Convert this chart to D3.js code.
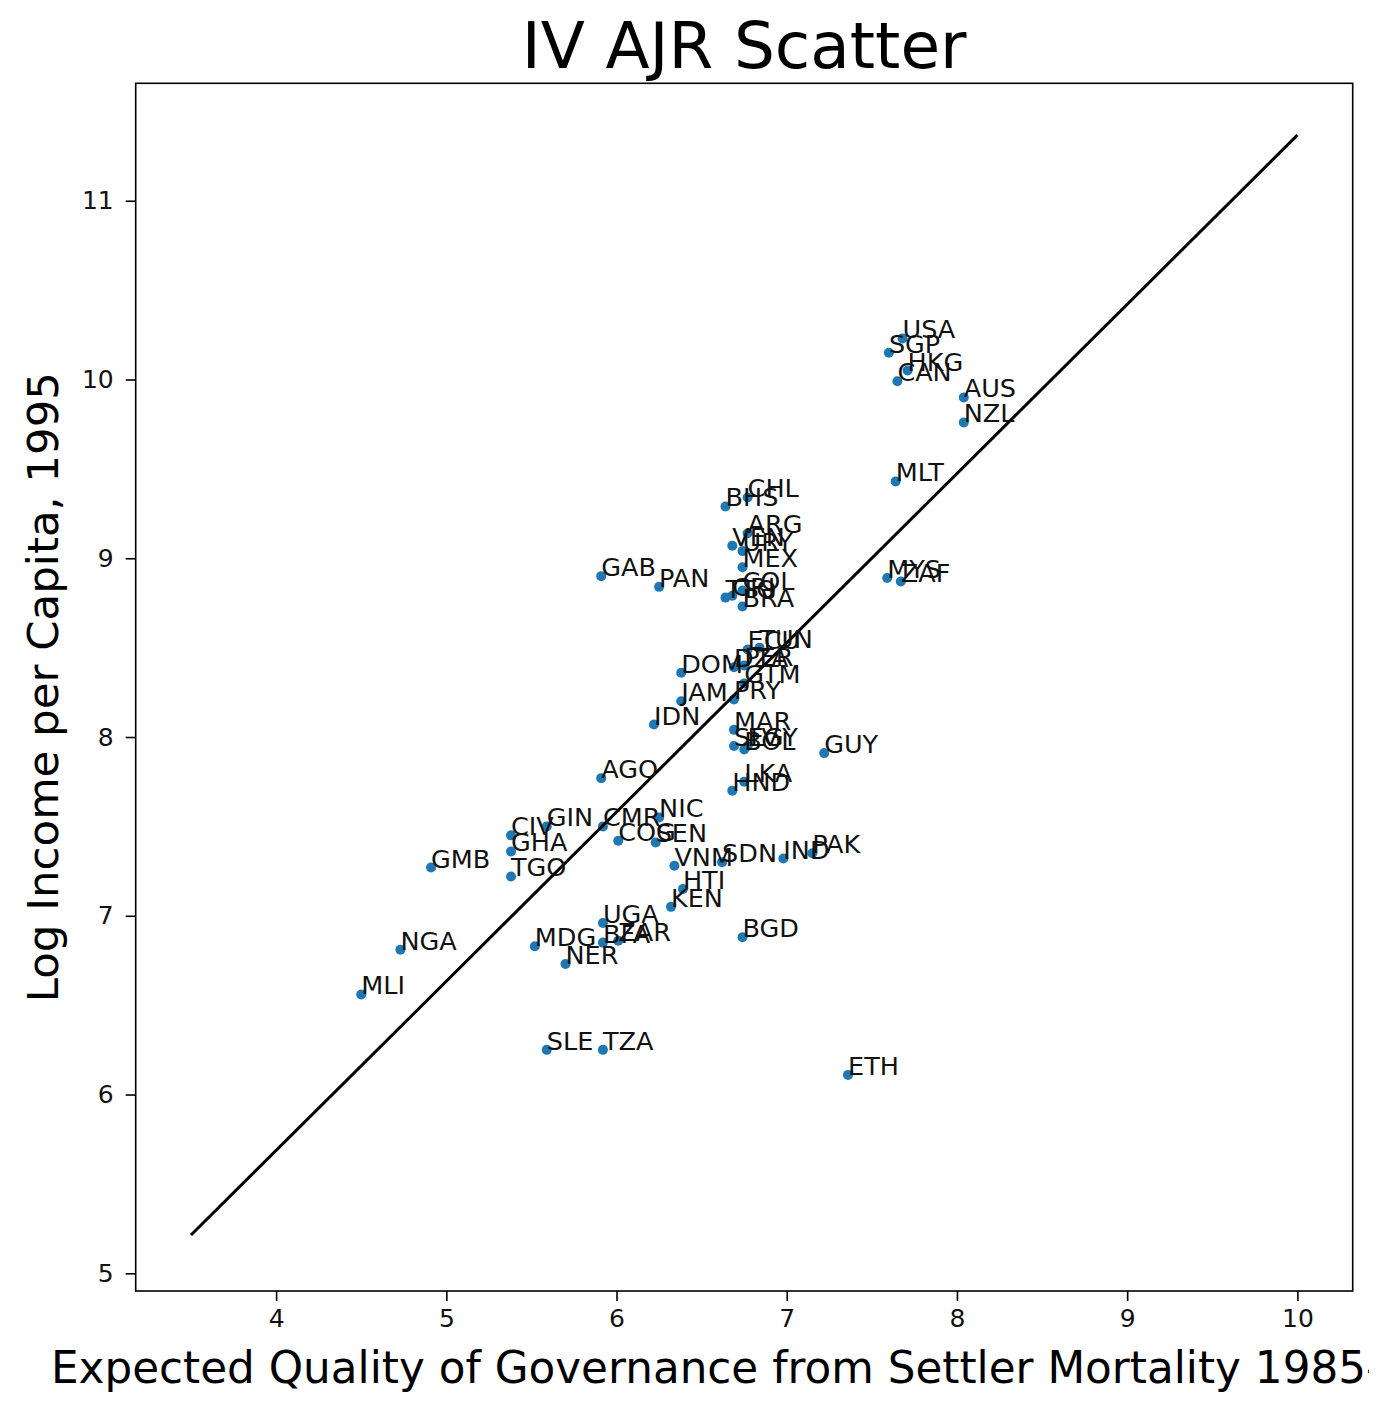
<!DOCTYPE html>
<html>
<head>
<meta charset="utf-8">
<script src="https://cdn.jsdelivr.net/npm/d3@7"></script>
<style>
  html, body { margin: 0; padding: 0; background: #fff; }
  svg { display: block; overflow: hidden; }
  text { font-family: "DejaVu Sans", sans-serif; }
</style>
</head>
<body>
<script>
// ---- data ----
const countries = ["USA","SGP","HKG","CAN","AUS","NZL","MLT","BHS","CHL","ARG","VEN","URY","MEX","COL","TTO","CRI","BRA","GAB","PAN","MYS","ZAF","DOM","ECU","TUN","PER","DZA","GTM","PRY","JAM","IDN","MAR","SLV","EGY","BOL","GUY","LKA","HND","AGO","CIV","GIN","GHA","TGO","CMR","COG","NIC","SEN","VNM","SDN","IND","PAK","HTI","KEN","UGA","MDG","BFA","ZAR","NER","BGD","GMB","NGA","MLI","SLE","TZA","ETH"];
const governance = [7.68,7.60,7.71,7.65,8.04,8.04,7.64,6.64,6.77,6.77,6.68,6.74,6.74,6.74,6.64,6.68,6.74,5.91,6.25,7.59,7.67,6.38,6.77,6.84,6.75,6.69,6.75,6.69,6.38,6.22,6.69,6.69,6.77,6.75,7.22,6.75,6.68,5.91,5.38,5.59,5.38,5.38,5.92,6.01,6.25,6.23,6.34,6.62,6.98,7.15,6.39,6.32,5.92,5.52,5.92,6.01,5.70,6.74,4.91,4.73,4.50,5.59,5.92,7.36];
const logIncome = [10.23,10.15,10.05,9.99,9.90,9.76,9.43,9.29,9.34,9.14,9.07,9.04,8.95,8.82,8.78,8.79,8.73,8.90,8.84,8.89,8.87,8.36,8.49,8.50,8.40,8.39,8.30,8.21,8.20,8.07,8.04,7.95,7.95,7.93,7.91,7.75,7.70,7.77,7.45,7.50,7.36,7.22,7.50,7.42,7.55,7.41,7.28,7.30,7.32,7.35,7.15,7.05,6.96,6.83,6.85,6.86,6.73,6.88,7.27,6.81,6.56,6.25,6.25,6.11];
const fitX = [3.5, 10];
const fitY = [5.214, 11.367];
const xTicks = [4,5,6,7,8,9,10];
const yTicks = [5,6,7,8,9,10,11];
const xDomain = [3.175, 10.325];
const yDomain = [4.901, 11.657];
const titleText = "IV AJR Scatter";
const xLabelText = "Expected Quality of Governance from Settler Mortality 1985-95";
const yLabelText = "Log Income per Capita, 1995";

// ---- layout ----
const W = 1369, H = 1408;
const L = 135.7, R = 1352.7, T = 83.3, B = 1291;

const svg = d3.select("body").append("svg").attr("width", W).attr("height", H);
svg.append("rect").attr("width", W).attr("height", H).attr("fill", "#fff");

const x = d3.scaleLinear().domain(xDomain).range([L, R]);
const y = d3.scaleLinear().domain(yDomain).range([B, T]);

const pts = countries.map((c, i) => ({c, x: governance[i], y: logIncome[i]}));

// points
svg.append("g").selectAll("circle").data(pts).join("circle")
  .attr("cx", d => x(d.x)).attr("cy", d => y(d.y)).attr("r", 5)
  .attr("fill", "#1f77b4");

// fitted line
const line = d3.line().x(d => x(d[0])).y(d => y(d[1]));
svg.append("path").datum(fitX.map((v, i) => [v, fitY[i]]))
  .attr("d", line).attr("fill", "none").attr("stroke", "#000").attr("stroke-width", 3);

// labels
svg.append("g").selectAll("text").data(pts).join("text")
  .attr("x", d => x(d.x)).attr("y", d => y(d.y))
  .attr("font-size", 25.5).attr("fill", "#111")
  .text(d => d.c);

// axes
const xAxis = d3.axisBottom(x).tickValues(xTicks).tickFormat(d3.format("d")).tickSize(10).tickPadding(8);
const yAxis = d3.axisLeft(y).tickValues(yTicks).tickFormat(d3.format("d")).tickSize(10).tickPadding(12);
const gx = svg.append("g").attr("transform", `translate(0,${B})`).call(xAxis);
const gy = svg.append("g").attr("transform", `translate(${L},0)`).call(yAxis);
[gx, gy].forEach(g => {
  g.select(".domain").remove();
  g.selectAll(".tick line").attr("stroke", "#000").attr("stroke-width", 1.6);
  g.selectAll(".tick text").attr("font-size", 25).attr("fill", "#111")
    .attr("font-family", "DejaVu Sans, sans-serif");
});

// frame
svg.append("rect").attr("x", L).attr("y", T).attr("width", R - L).attr("height", B - T)
  .attr("fill", "none").attr("stroke", "#000").attr("stroke-width", 1.6);

// title & labels
svg.append("text").attr("x", (L + R) / 2).attr("y", 68).attr("text-anchor", "middle")
  .attr("font-size", 64.5).attr("fill", "#000").text(titleText);
svg.append("text").attr("x", (L + R) / 2).attr("y", 1383).attr("text-anchor", "middle")
  .attr("font-size", 43.7).attr("fill", "#000").text(xLabelText);
svg.append("text").attr("transform", `translate(58,${(T + B) / 2}) rotate(-90)`)
  .attr("text-anchor", "middle").attr("font-size", 43.5).attr("fill", "#000").text(yLabelText);
</script>
</body>
</html>
